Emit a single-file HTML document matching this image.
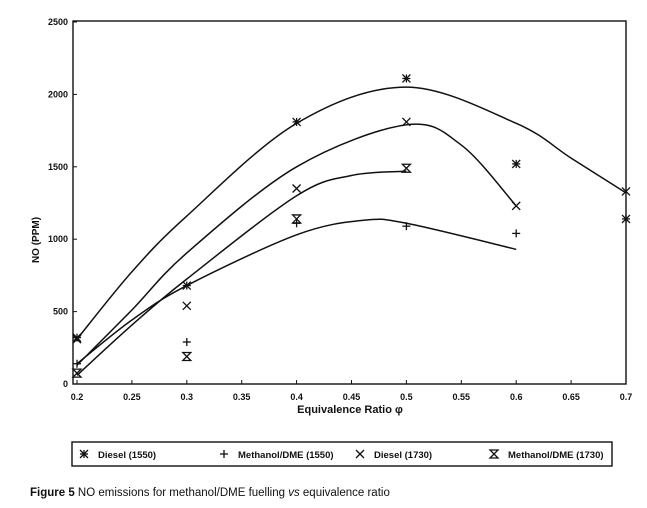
<!DOCTYPE html>
<html><head><meta charset="utf-8">
<style>
body{margin:0;background:#fff;width:647px;height:508px;overflow:hidden}
svg{display:block}
text{font-family:"Liberation Sans",sans-serif;fill:#111}
</style></head><body>
<svg id="chart" width="647" height="508" viewBox="0 0 647 508"></svg>
<script>
const xTicks=[0.2,0.25,0.3,0.35,0.4,0.45,0.5,0.55,0.6,0.65,0.7];
const xTickLabels=["0.2","0.25","0.3","0.35","0.4","0.45","0.5","0.55","0.6","0.65","0.7"];
const yTicks=[0,500,1000,1500,2000,2500];
const yTickLabels=["0","500","1000","1500","2000","2500"];
const dieselX=[0.2,0.3,0.4,0.5,0.6,0.7];
const diesel1550=[320,680,1810,2110,1520,1140];
const methX1550=[0.2,0.3,0.4,0.5,0.6];
const meth1550=[140,290,1110,1090,1040];
const diesel1730=[310,540,1350,1810,1230,1330];
const methX1730=[0.2,0.3,0.4,0.5];
const meth1730=[75,190,1140,1490];
// fitted curves
const fit1X=[0.2,0.25,0.3,0.4,0.5,0.6,0.65,0.7];
const fit1Y=[310,775,1160,1800,2050,1800,1560,1320];
const fit2X=[0.2,0.25,0.3,0.4,0.5,0.55,0.6];
const fit2Y=[130,511,905,1500,1790,1650,1230];
const fit3X=[0.2,0.25,0.3,0.4,0.45,0.5];
const fit3Y=[60,407,725,1300,1440,1470];
const fit4X=[0.2,0.25,0.3,0.4,0.46,0.5,0.6];
const fit4Y=[140,442,680,1030,1130,1110,930];

const L=73,R=626,T=21,B=384;
const x=v=>77+(v-0.2)*1098;
const y=v=>B-v*0.1448;
const svg=document.getElementById('chart');
const NS='http://www.w3.org/2000/svg';
function mk(tag,attrs,parent){const e=document.createElementNS(NS,tag);for(const k in attrs)e.setAttribute(k,attrs[k]);(parent||svg).appendChild(e);return e;}

let frame=mk('rect',{x:L,y:T,width:R-L,height:B-T,fill:'none',stroke:'#111','stroke-width':1.4});



xTicks.forEach((t,i)=>{
  const tk=mk('line',{x1:x(t),x2:x(t),y1:B,y2:B-4,stroke:'#111'});
  
  
  const lb=mk('text',{x:x(t),y:400,'text-anchor':'middle','font-size':9,'font-weight':'bold'});
  lb.textContent=xTickLabels[i];
  
  
});
yTicks.forEach((t,i)=>{
  const tk=mk('line',{x1:L,x2:L+4,y1:y(t),y2:y(t),stroke:'#111'});
  
  
  const lb=mk('text',{x:L-5,y:y(t)+3,'text-anchor':'end','font-size':9,'font-weight':'bold'});
  lb.textContent=yTickLabels[i];
  
  
});
let xt=mk('text',{x:350,y:413,'text-anchor':'middle','font-size':11,'font-weight':'bold','font-family':'Liberation Serif'});
xt.textContent='Equivalence Ratio \u03C6';


let yt=mk('text',{x:0,y:0,transform:'translate(39,240) rotate(-90)','text-anchor':'middle','font-size':10,'font-weight':'bold'});
yt.textContent='NO (PPM)';



function spline(xs,ys){
  const p=xs.map((v,i)=>[x(v),y(ys[i])]);
  let d=`M${p[0][0]},${p[0][1]}`;
  for(let i=0;i<p.length-1;i++){
    const p0=p[i-1]||p[i],p1=p[i],p2=p[i+1],p3=p[i+2]||p2;
    const c1=[p1[0]+(p2[0]-p0[0])/6,p1[1]+(p2[1]-p0[1])/6];
    const c2=[p2[0]-(p3[0]-p1[0])/6,p2[1]-(p3[1]-p1[1])/6];
    d+=` C${c1[0]},${c1[1]} ${c2[0]},${c2[1]} ${p2[0]},${p2[1]}`;
  }
  return d;
}
[[fit1X,fit1Y,'fit-diesel-1550'],[fit2X,fit2Y,'fit-diesel-1730'],[fit3X,fit3Y,'fit-methanol-1730'],[fit4X,fit4Y,'fit-methanol-1550']].forEach(f=>{
  const c=mk('path',{d:spline(f[0],f[1]),fill:'none',stroke:'#111','stroke-width':1.5});
  
  
});

function marker(kind,cx,cy,parent){
  const g=mk('g',{stroke:'#111','stroke-width':1.3,fill:'none'},parent);
  const s=4;
  if(kind==='star'){
    mk('line',{x1:cx-s,y1:cy,x2:cx+s,y2:cy},g);mk('line',{x1:cx,y1:cy-s,x2:cx,y2:cy+s},g);
    mk('line',{x1:cx-s,y1:cy-s,x2:cx+s,y2:cy+s},g);mk('line',{x1:cx-s,y1:cy+s,x2:cx+s,y2:cy-s},g);
  }else if(kind==='plus'){
    mk('line',{x1:cx-s,y1:cy,x2:cx+s,y2:cy},g);mk('line',{x1:cx,y1:cy-s,x2:cx,y2:cy+s},g);
  }else if(kind==='cross'){
    mk('line',{x1:cx-s,y1:cy-s,x2:cx+s,y2:cy+s},g);mk('line',{x1:cx-s,y1:cy+s,x2:cx+s,y2:cy-s},g);
  }else{
    mk('path',{d:`M${cx-s},${cy-s}H${cx+s}L${cx-s},${cy+s}H${cx+s}Z`},g);
  }
  return g;
}
[[dieselX,diesel1550,'star','point-diesel-1550'],[methX1550,meth1550,'plus','point-methanol-1550'],[dieselX,diesel1730,'cross','point-diesel-1730'],[methX1730,meth1730,'hour','point-methanol-1730']].forEach(s=>{
  s[0].forEach((v,i)=>{
    const m=marker(s[2],x(v),y(s[1][i]));
    
    
  });
});

// legend
const lg=mk('g',{});


mk('rect',{x:72,y:442,width:540,height:24,fill:'#fff',stroke:'#111','stroke-width':1.4},lg);
[['star',84,'Diesel (1550)'],['plus',224,'Methanol/DME (1550)'],['cross',360,'Diesel (1730)'],['hour',494,'Methanol/DME (1730)']].forEach(e=>{
  const g=mk('g',{},lg);
  
  
  marker(e[0],e[1],454,g);
  const t=mk('text',{x:e[1]+14,y:458,'font-size':9.5,'font-weight':'bold'},g);
  t.textContent=e[2];
});
let cap=mk('text',{x:30,y:496,'font-size':11.5});
cap.innerHTML='<tspan font-weight="bold">Figure 5</tspan>  NO emissions for methanol/DME fuelling <tspan font-style="italic">vs</tspan> equivalence ratio';


</script>
</body></html>
